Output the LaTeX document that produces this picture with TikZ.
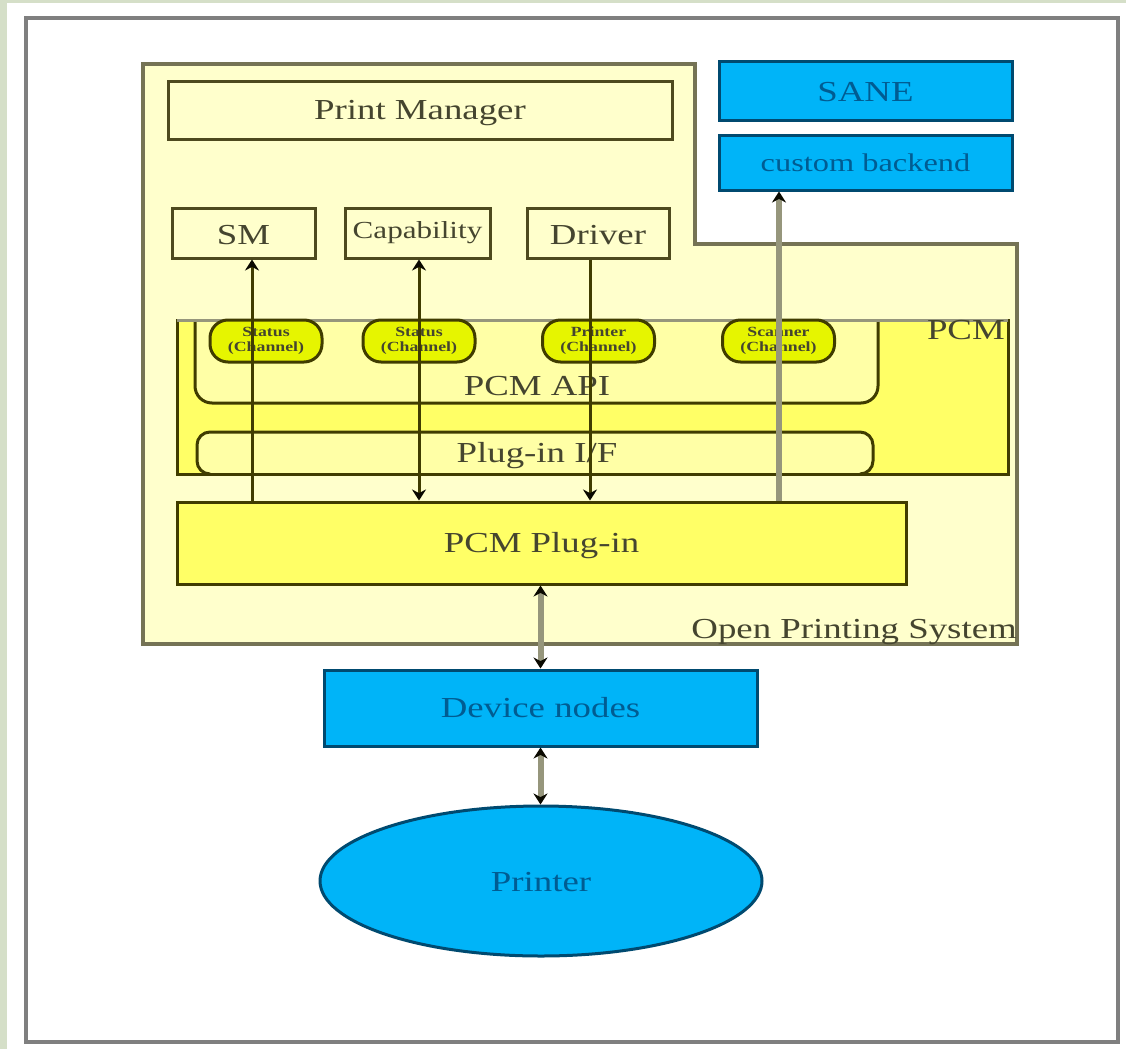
\documentclass[tikz,border=0pt]{standalone}
\usepackage{fontspec}
\setmainfont[FakeStretch=1.27]{Liberation Serif}
\usetikzlibrary{shapes.geometric,arrows.meta,calc}
\definecolor{sidegreen}{HTML}{D5DFC8}
\definecolor{framegray}{HTML}{7F7F7F}
\definecolor{paleY}{HTML}{FFFFCC}
\definecolor{midY}{HTML}{FFFF66}
\definecolor{softY}{HTML}{FFFFA6}
\definecolor{chanY}{HTML}{E6F500}
\definecolor{skyB}{HTML}{00B4F8}
\definecolor{deepB}{HTML}{004A70}
\definecolor{textB}{HTML}{005C92}
\definecolor{lineD}{HTML}{403C00}
\definecolor{lineP}{HTML}{4E4A1E}
\definecolor{lineG}{HTML}{757355}
\definecolor{grayC}{HTML}{96967C}
\definecolor{txt}{HTML}{45452F}
\newcommand{\dropby}[2]{\raisebox{-#1pt}[19pt][6pt]{#2}}
\tikzset{
  box/.style={draw=lineD,line width=3pt,inner sep=0pt,text=txt,font=\fontsize{29}{31}\selectfont},
  pale/.style={box,fill=paleY,draw=lineP},
  blue/.style={box,fill=skyB,draw=deepB,text=textB},
  midbox/.style={box,fill=midY},
  chan/.style={draw=lineD,line width=3pt,fill=chanY,rounded corners=18pt,inner sep=0pt,text=txt,align=center,
     font=\fontsize{14}{15}\selectfont\bfseries,minimum width=112pt,minimum height=42pt},
  link/.style={draw=lineD,line width=3pt},
  grayl/.style={draw=grayC,line width=6pt},
  tip/.style={-{Stealth[length=11pt,width=14pt,color=black!85!lineD]}},
  bitip/.style={{Stealth[length=11pt,width=14pt,color=black!85!lineD]}-{Stealth[length=11pt,width=14pt,color=black!85!lineD]}},
  lab/.style={inner sep=0pt,text=txt,font=\fontsize{29}{31}\selectfont}
}
\begin{document}
\begin{tikzpicture}[x=1pt,y=-1pt]
\useasboundingbox (0,0) rectangle (1126,1049);
\fill[white] (0,0) rectangle (1126,1049);
\fill[sidegreen] (0,0) rectangle (7,1049);
\fill[sidegreen] (0,0) rectangle (1126,3);
% outer frame
\draw[framegray,line width=4pt] (26,18) rectangle (1118,1042);
% Open Printing System region
\draw[fill=paleY,draw=lineG,line width=4pt] (143,64) -- (695,64) -- (695,244) -- (1017,244) -- (1017,644) -- (143,644) -- cycle;
\node[lab,anchor=east] (ops) at (1017,632) {Open Printing System};
% top boxes
\node[pale,minimum width=504pt,minimum height=58pt] (pm) at (420,110) {\dropby{3}{Print Manager}};
\node[pale,minimum width=143pt,minimum height=50pt] (sm) at (243.5,233) {\dropby{5}{SM}};
\node[pale,minimum width=145pt,minimum height=50pt] (cap) at (417.5,233) {\fontsize{24.5}{26}\selectfont Capability};
\node[pale,minimum width=142pt,minimum height=50pt] (drv) at (598,233) {\dropby{5}{Driver}};
\node[blue,minimum width=293pt,minimum height=58pt] (sane) at (865.5,91) {\dropby{4}{SANE}};
\node[blue,minimum width=293pt,minimum height=55pt] (cust) at (865.5,162.5) {\fontsize{25.5}{27}\selectfont custom backend};
% PCM block
\node[midbox,minimum width=831pt,minimum height=154pt] (pcm) at (592.5,397) {};
\draw[lineD,line width=3pt,fill=softY,rounded corners=17pt] (195,320) -- (195,403) -- (878,403) -- (878,320);
\node[lab] (api) at (537,386) {PCM API};
\draw[lineD,line width=3pt,fill=softY,rounded corners=13pt] (210,474) -- (197,474) -- (197,432) -- (873,432) -- (873,474) -- (860,474);
\draw[lineD,line width=3pt] (177,474) -- (1008,474);
\node[lab] (pif) at (537,453) {\dropby{3}{Plug-in I/F}};
\draw[grayC,line width=3pt] (177,320) -- (1008,320);
\node[lab,anchor=north east] (pcmlab) at (1005,320) {PCM};
\node[chan] (c1) at (266,341) {Status\\(Channel)};
\node[chan] (c2) at (419,341) {Status\\(Channel)};
\node[chan] (c3) at (598.5,341) {Printer\\(Channel)};
\node[chan] (c4) at (778.5,341) {Scanner\\(Channel)};
% plug-in and lower nodes
\node[midbox,minimum width=729pt,minimum height=82pt] (plug) at (541.5,543) {\dropby{3}{PCM Plug-in}};
\node[blue,minimum width=433pt,minimum height=76pt] (dev) at (540.5,708) {Device nodes};
\node[blue,ellipse,minimum width=442pt,minimum height=150pt] (prn) at (541,881) {\dropby{4}{Printer}};
% connectors
\draw[link,tip] ([xshift=8.5pt]sm.south |- plug.north) -- ([xshift=8.5pt]sm.south);
\draw[link,bitip] ([xshift=1.5pt]cap.south) -- ([xshift=1.5pt]cap.south |- plug.north);
\draw[link,tip] ([xshift=-8pt]drv.south) -- ([xshift=-8pt]drv.south |- plug.north);
\draw[grayl,tip] ([xshift=-86.5pt]cust.south |- plug.north) -- ([xshift=-86.5pt]cust.south);
\draw[grayl,bitip] (plug.south -| dev.north) -- (dev.north);
\draw[grayl,bitip] (dev.south) -- (prn.north -| dev.south);
\end{tikzpicture}
\end{document}
